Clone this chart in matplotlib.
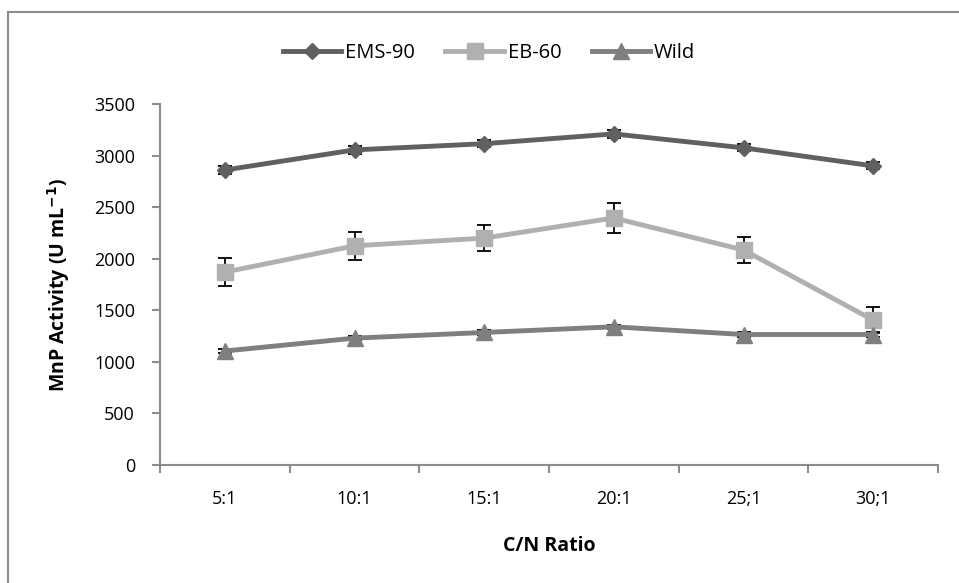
import matplotlib.pyplot as plt
from matplotlib.patches import Rectangle

categories = ["5:1", "10:1", "15:1", "20:1", "25;1", "30;1"]
ems90 = [2860, 3055, 3115, 3210, 3075, 2900]
ems90_err = [35, 35, 35, 35, 35, 35]
eb60 = [1870, 2125, 2200, 2395, 2085, 1405]
eb60_err = [135, 135, 130, 145, 130, 130]
wild = [1105, 1230, 1285, 1340, 1265, 1265]
wild_err = [20, 20, 20, 20, 20, 20]

fig = plt.figure(figsize=(9.59, 5.83), dpi=100)
plt.rcParams["font.family"] = ["Open Sans", "DejaVu Sans"]

# outer chart border (only left/top visible in the source)
fig.patches.append(Rectangle((8 / 959, -0.1), 1.2, 1 - 12 / 583 + 0.1,
                             transform=fig.transFigure, fill=False,
                             edgecolor="#8c8c8c", linewidth=1.5))

ax = fig.add_axes([160 / 959, 1 - 465 / 583, 778 / 959, 361 / 583])
x = range(len(categories))

series = [
    ("EMS-90", ems90, ems90_err, "#606060", "D", 8),
    ("EB-60", eb60, eb60_err, "#b0b0b0", "s", 11),
    ("Wild", wild, wild_err, "#7f7f7f", "^", 11),
]
for name, vals, err, col, mk, ms in series:
    ax.errorbar(x, vals, yerr=err, color=col, marker=mk, markersize=ms,
                linewidth=3.5, ecolor="black", elinewidth=1.3, capsize=5,
                capthick=1.3, label=name, zorder=3)

ax.set_xlim(-0.5, len(categories) - 0.5)
ax.set_ylim(0, 3500)
ax.set_yticks(range(0, 3501, 500))
ax.set_xticks(x)
ax.set_xticklabels(categories)
ax.set_xticks([i - 0.5 for i in range(len(categories) + 1)], minor=True)
ax.tick_params(axis="x", which="major", length=0, pad=18, labelsize=13)
ax.tick_params(axis="x", which="minor", length=6, color="#8c8c8c", width=1.5,
               direction="out")
ax.tick_params(axis="y", length=6, color="#8c8c8c", width=1.5, labelsize=13,
               pad=12)
for side in ("top", "right"):
    ax.spines[side].set_visible(False)
for side in ("left", "bottom"):
    ax.spines[side].set_color("#8c8c8c")
    ax.spines[side].set_linewidth(1.5)

ax.set_xlabel("C/N Ratio", fontsize=14, fontweight="bold", labelpad=20)
ax.set_ylabel("MnP Activity (U mL$^{\\mathbf{-1}}$)", fontsize=14,
              fontweight="bold", labelpad=16)

handles, labels = ax.get_legend_handles_labels()
handles = [h[0] for h in handles]
fig.legend(handles, labels, loc="center", bbox_to_anchor=(0.51, 1 - 53 / 583),
           ncol=3, frameon=False, fontsize=14.5, handlelength=2.9,
           columnspacing=1.5, handletextpad=0.2)

fig.savefig("out.png", dpi=100)
